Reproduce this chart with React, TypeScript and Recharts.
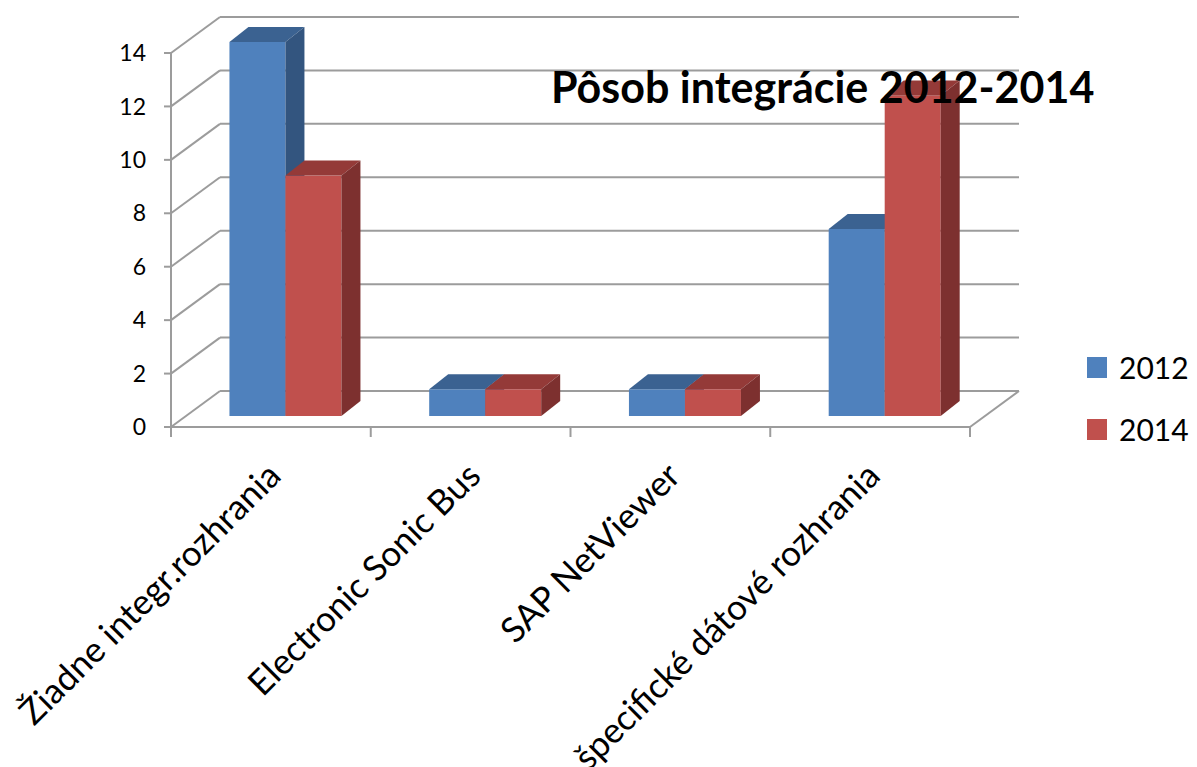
import { BarChart, Bar, XAxis, YAxis, CartesianGrid } from "recharts";

const categories = [
  "Žiadne integr.rozhrania",
  "Electronic Sonic Bus",
  "SAP NetViewer",
  "špecifické dátové rozhrania",
];
const values2012 = [14, 1, 1, 7];
const values2014 = [9, 1, 1, 12];
const yTicks = [0, 2, 4, 6, 8, 10, 12, 14];
const title = "Pôsob integrácie 2012-2014";

const series = [
  { key: "y2012", name: "2012", front: "#4F81BD", top: "#3B6291", side: "#33557F" },
  { key: "y2014", name: "2014", front: "#C0504D", top: "#943A38", side: "#7D302F" },
];

const data = categories.map((name, i) => ({
  name,
  y2012: values2012[i],
  y2014: values2014[i],
}));

const W = 1197;
const H = 767;
const FONT = "Lato, 'Open Sans', sans-serif";
const GRID = "#9c9c9c";
const PLOT_BOTTOM = 427;

// perspective offsets: back wall, bar front plane, bar depth
const WALL_DX = 49;
const WALL_DY = -36;
const BAR_DX = 15;
const BAR_DY = -11;
const DEPTH_DX = 19;
const DEPTH_DY = -15;

const gridLine = (p: any) => {
  const { x1, y1, x2, index } = p;
  const bx = x1 + WALL_DX;
  const by = y1 + WALL_DY;
  return (
    <g key={`grid-${index}-${y1}`}>
      <line x1={x1} y1={y1} x2={bx} y2={by} stroke={GRID} strokeWidth={2} />
      <line x1={bx} y1={by} x2={x2 + WALL_DX} y2={by} stroke={GRID} strokeWidth={2} />
      {y1 >= PLOT_BOTTOM - 1 && (
        <line x1={x2} y1={y1} x2={x2 + WALL_DX} y2={by} stroke={GRID} strokeWidth={2} />
      )}
    </g>
  );
};

const makeBox = (s: (typeof series)[number]) => (p: any) => {
  const { x, y, width, height } = p;
  if (!height) return <g />;
  const fx = x + BAR_DX;
  const fy = y + BAR_DY;
  const r = fx + width;
  const topPath = `M${fx},${fy} L${fx + DEPTH_DX},${fy + DEPTH_DY} L${r + DEPTH_DX},${fy + DEPTH_DY} L${r},${fy} Z`;
  const sidePath = `M${r},${fy} L${r + DEPTH_DX},${fy + DEPTH_DY} L${r + DEPTH_DX},${fy + height + DEPTH_DY} L${r},${fy + height} Z`;
  return (
    <g>
      <rect x={fx} y={fy} width={width} height={height} fill={s.front} />
      <path d={topPath} fill={s.top} />
      <path d={sidePath} fill={s.side} />
    </g>
  );
};

const CategoryTick = (p: any) => {
  const { x, y, payload } = p;
  const half = payload && payload.offset ? payload.offset : 100;
  const axisY = y - 10;
  const isLast = payload.value === categories[categories.length - 1];
  const tx = x + 12;
  const ty = y + 41;
  return (
    <g>
      <line x1={x - half} y1={axisY} x2={x - half} y2={y} stroke={GRID} strokeWidth={2} />
      {isLast && <line x1={x + half} y1={axisY} x2={x + half} y2={y} stroke={GRID} strokeWidth={2} />}
      <text
        x={tx}
        y={ty}
        transform={`rotate(-45, ${tx}, ${ty})`}
        textAnchor="end"
        fontSize={35}
        fontFamily={FONT}
        fill="#000"
      >
        {payload.value}
      </text>
    </g>
  );
};

export default function App() {
  return (
    <div style={{ position: "absolute", left: 0, top: 0, width: W, height: H, background: "#fff" }}>
      <BarChart
        width={W}
        height={H}
        data={data}
        margin={{ top: 53, right: 227, bottom: 0, left: 111 }}
        barCategoryGap="21.75%"
        barGap={0}
      >
        <CartesianGrid vertical={false} horizontal={gridLine} />
        <XAxis
          dataKey="name"
          height={340}
          interval={0}
          tickSize={10}
          tickMargin={0}
          tickLine={false}
          axisLine={{ stroke: GRID, strokeWidth: 2 }}
          tick={<CategoryTick />}
        />
        <YAxis
          width={60}
          domain={[0, 14]}
          ticks={yTicks}
          tickSize={7}
          tickMargin={18}
          axisLine={{ stroke: GRID, strokeWidth: 2 }}
          tickLine={{ stroke: GRID, strokeWidth: 2 }}
          tick={{ fontSize: 23, fontFamily: FONT, fill: "#000" }}
        />
        {series.map((s) => (
          <Bar
            key={s.key}
            dataKey={s.key}
            name={s.name}
            fill={s.front}
            shape={makeBox(s)}
            isAnimationActive={false}
          />
        ))}
      </BarChart>
      <svg
        width={W}
        height={H}
        style={{ position: "absolute", left: 0, top: 0, pointerEvents: "none" }}
      >
        <text x={551} y={103} fontSize={43} fontWeight="bold" fontFamily={FONT} fill="#000">
          {title}
        </text>
        {series.map((s, i) => (
          <g key={s.key}>
            <rect x={1087} y={357 + i * 62} width={20} height={21} fill={s.front} />
            <text x={1119} y={379 + i * 62} fontSize={30} fontFamily={FONT} fill="#000">
              {s.name}
            </text>
          </g>
        ))}
      </svg>
    </div>
  );
}
